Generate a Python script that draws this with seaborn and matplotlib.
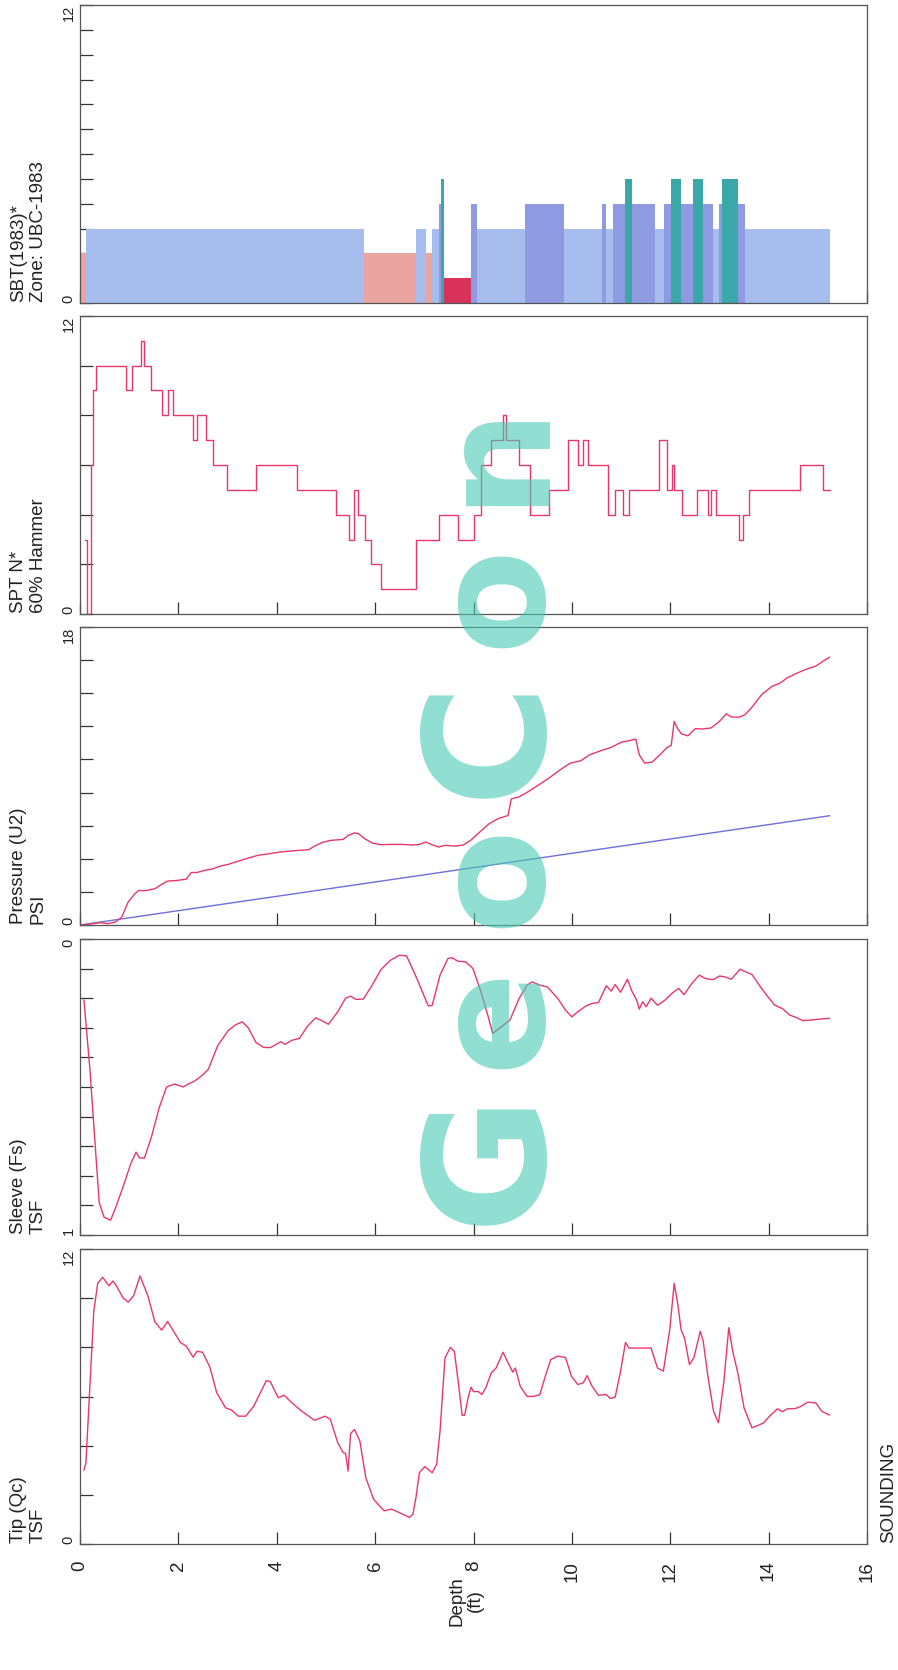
import numpy as np
import matplotlib
matplotlib.use("Agg")
import matplotlib.pyplot as plt
import seaborn as sns

# ---------------- data (depth in ft) ----------------
tip_depth = [0.08, 0.12, 0.28, 0.36, 0.46, 0.59, 0.67, 0.74, 0.88, 0.98, 1.09, 1.22, 1.38, 1.52,
             1.66, 1.78, 1.92, 2.04, 2.16, 2.30, 2.38, 2.49, 2.64, 2.78, 2.96, 3.08, 3.22, 3.37,
             3.53, 3.68, 3.79, 3.87, 4.03, 4.15, 4.31, 4.51, 4.77, 4.98, 5.09, 5.24, 5.35, 5.40,
             5.45, 5.50, 5.58, 5.69, 5.81, 5.97, 6.18, 6.33, 6.49, 6.70, 6.77, 6.83, 6.90, 7.01,
             7.16, 7.25, 7.32, 7.42, 7.53, 7.61, 7.68, 7.77, 7.82, 7.89, 7.95, 8.00, 8.10, 8.17,
             8.25, 8.36, 8.46, 8.60, 8.72, 8.80, 8.85, 8.95, 9.09, 9.24, 9.35, 9.45, 9.57, 9.71,
             9.87, 9.99, 10.12, 10.23, 10.31, 10.41, 10.54, 10.70, 10.78, 10.88, 10.99, 11.09,
             11.16, 11.61, 11.74, 11.86, 11.99, 12.08, 12.15, 12.22, 12.29, 12.39, 12.48, 12.61,
             12.67, 12.77, 12.88, 12.98, 13.09, 13.19, 13.27, 13.38, 13.50, 13.66, 13.76, 13.90,
             14.02, 14.18, 14.28, 14.38, 14.54, 14.64, 14.80, 14.96, 15.08, 15.24]
tip_qc = [3.0, 3.3, 9.46, 10.6, 10.85, 10.5, 10.7, 10.5, 10.0, 9.84, 10.1, 10.9, 10.1, 9.05,
          8.7, 9.05, 8.6, 8.2, 8.05, 7.6, 7.84, 7.8, 7.2, 6.15, 5.54, 5.45, 5.2, 5.2,
          5.6, 6.2, 6.65, 6.6, 5.95, 6.05, 5.74, 5.4, 5.03, 5.2, 5.07, 4.12, 3.72, 3.68,
          2.97, 4.49, 4.66, 4.19, 2.7, 1.82, 1.35, 1.42, 1.28, 1.08, 1.22, 1.89, 2.9, 3.15,
          2.9, 3.24, 4.6, 7.57, 8.0, 7.84, 6.76, 5.23, 5.24, 5.95, 6.38, 6.2, 6.2, 6.08,
          6.35, 6.96, 7.16, 7.8, 7.3, 6.99, 7.16, 6.42, 6.0, 6.01, 6.08, 6.76, 7.5, 7.64,
          7.59, 6.83, 6.49, 6.55, 6.85, 6.42, 6.05, 6.08, 5.92, 5.97, 7.03, 8.2,
          7.97, 7.97, 7.16, 7.03, 8.72, 10.6, 9.8, 8.72, 8.38, 7.3, 7.57, 8.65,
          8.25, 6.76, 5.4, 4.93, 6.62, 8.8, 7.84, 6.9, 5.54, 4.73, 4.8, 4.93,
          5.2, 5.5, 5.38, 5.5, 5.51, 5.58, 5.77, 5.74, 5.4, 5.24]

sleeve_depth = [0.08, 0.20, 0.39, 0.49, 0.62, 0.72, 0.88, 1.03, 1.14, 1.21, 1.31, 1.45, 1.61,
                1.76, 1.92, 2.10, 2.20, 2.33, 2.49, 2.61, 2.80, 3.01, 3.16, 3.30, 3.42, 3.58,
                3.73, 3.87, 3.99, 4.08, 4.17, 4.31, 4.46, 4.62, 4.79, 4.93, 5.05, 5.24, 5.40,
                5.50, 5.61, 5.76, 5.94, 6.12, 6.31, 6.49, 6.64, 6.85, 7.08, 7.16, 7.32, 7.48,
                7.56, 7.68, 7.84, 7.99, 8.15, 8.29, 8.39, 8.57, 8.74, 8.93, 9.09, 9.19, 9.35,
                9.50, 9.71, 9.87, 10.00, 10.12, 10.28, 10.40, 10.54, 10.70, 10.80, 10.88, 10.99,
                11.13, 11.21, 11.32, 11.37, 11.44, 11.51, 11.61, 11.74, 11.89, 12.03, 12.17,
                12.28, 12.44, 12.59, 12.72, 12.88, 13.00, 13.11, 13.24, 13.42, 13.52, 13.66,
                13.81, 13.97, 14.12, 14.28, 14.43, 14.56, 14.70, 14.85, 15.01, 15.24]
sleeve_fs = [0.206, 0.437, 0.89, 0.94, 0.95, 0.91, 0.835, 0.76, 0.72, 0.74, 0.74, 0.67, 0.57,
             0.50, 0.49, 0.50, 0.49, 0.48, 0.46, 0.44, 0.36, 0.31, 0.29, 0.28, 0.30, 0.35,
             0.366, 0.367, 0.356, 0.347, 0.356, 0.342, 0.336, 0.296, 0.266, 0.277, 0.288, 0.246, 0.20,
             0.193, 0.204, 0.203, 0.156, 0.103, 0.072, 0.055, 0.057, 0.134, 0.226, 0.224, 0.122, 0.066,
             0.063, 0.075, 0.077, 0.10, 0.178, 0.257, 0.319, 0.296, 0.274, 0.20, 0.156, 0.145, 0.156,
             0.162, 0.20, 0.24, 0.263, 0.246, 0.227, 0.218, 0.215, 0.158, 0.176, 0.154, 0.18,
             0.136, 0.173, 0.207, 0.237, 0.212, 0.229, 0.20, 0.224, 0.207, 0.184, 0.167,
             0.188, 0.15, 0.122, 0.134, 0.137, 0.125, 0.128, 0.136, 0.102, 0.11, 0.12,
             0.156, 0.192, 0.223, 0.235, 0.257, 0.265, 0.276, 0.274, 0.271, 0.268]

u2_depth = [0.05, 0.25, 0.41, 0.57, 0.72, 0.85, 0.98, 1.12, 1.19, 1.35, 1.53, 1.66, 1.78, 1.97,
            2.16, 2.26, 2.38, 2.54, 2.70, 2.85, 3.01, 3.22, 3.42, 3.63, 3.84, 4.05, 4.25, 4.46,
            4.65, 4.77, 4.93, 5.09, 5.35, 5.45, 5.58, 5.66, 5.79, 5.94, 6.12, 6.33, 6.54, 6.75,
            6.90, 7.03, 7.14, 7.29, 7.42, 7.63, 7.79, 7.94, 8.10, 8.31, 8.51, 8.70, 8.77, 8.93,
            9.14, 9.35, 9.55, 9.76, 9.97, 10.18, 10.36, 10.59, 10.80, 11.01, 11.16, 11.30, 11.37,
            11.48, 11.63, 11.79, 11.94, 12.02, 12.08, 12.15, 12.23, 12.36, 12.51, 12.65, 12.83,
            13.00, 13.14, 13.24, 13.40, 13.52, 13.66, 13.86, 14.07, 14.23, 14.38, 14.59, 14.80,
            14.96, 15.11, 15.24]
u2_psi = [0.0, 0.08, 0.14, 0.08, 0.18, 0.48, 1.39, 1.90, 2.08, 2.08, 2.2, 2.46, 2.65, 2.69,
          2.77, 3.17, 3.17, 3.31, 3.39, 3.56, 3.66, 3.86, 4.04, 4.22, 4.30, 4.40, 4.46, 4.51,
          4.55, 4.77, 4.99, 5.11, 5.17, 5.41, 5.56, 5.52, 5.21, 4.95, 4.85, 4.87, 4.87, 4.83,
          4.87, 5.01, 4.87, 4.71, 4.81, 4.77, 4.83, 5.11, 5.54, 6.10, 6.44, 6.61, 7.62, 7.74,
          8.10, 8.51, 8.91, 9.37, 9.78, 9.92, 10.28, 10.53, 10.73, 11.05, 11.13, 11.23, 10.28,
          9.78, 9.84, 10.28, 10.73, 10.85, 12.30, 11.86, 11.54, 11.43, 11.86, 11.84, 11.90,
          12.30, 12.75, 12.57, 12.55, 12.71, 13.15, 13.92, 14.42, 14.61, 14.93, 15.23, 15.49,
          15.64, 15.94, 16.18]

hydro_depth = [0.0, 15.24]
hydro_psi = [0.0, 6.6]

spt_depth = [0.10, 0.15, 0.22, 0.27, 0.33, 0.93, 1.05, 1.24, 1.31, 1.45, 1.66, 1.78, 1.90,
             2.30, 2.38, 2.57, 2.70, 2.98, 3.58, 4.41, 5.21, 5.47, 5.58, 5.66, 5.79, 5.92,
             6.12, 6.83, 7.29, 7.68, 8.02, 8.15, 8.36, 8.60, 8.67, 8.93, 9.14, 9.53, 9.92,
             10.12, 10.23, 10.33, 10.73, 10.88, 11.03, 11.16, 11.77, 11.94, 12.03, 12.07,
             12.23, 12.55, 12.77, 12.83, 12.93, 13.40, 13.47, 13.61, 14.64, 15.11, 15.24]
spt_n = [3, 0, 6, 9, 10, 9, 10, 11, 10, 9, 8, 9, 8,
         7, 8, 7, 6, 5, 6, 5, 4, 3, 5, 4, 3, 2,
         1, 3, 4, 3, 4, 6, 7, 8, 7, 6, 4, 5, 7,
         6, 7, 6, 4, 5, 4, 5, 7, 5, 6, 5,
         4, 5, 4, 5, 4, 3, 4, 5, 6, 5, 5]

sbt_top = [0.00, 0.12, 5.78, 6.83, 7.04, 7.16, 7.29, 7.34, 7.41, 7.94, 8.08, 9.05, 9.83,
           10.62, 10.70, 10.83, 11.08, 11.22, 11.68, 11.87, 12.02, 12.21, 12.46, 12.67,
           12.86, 13.00, 13.06, 13.38, 13.52]
sbt_bottom = [0.12, 5.78, 6.83, 7.04, 7.16, 7.29, 7.34, 7.41, 7.94, 8.08, 9.05, 9.83, 10.62,
              10.70, 10.83, 11.08, 11.22, 11.68, 11.87, 12.02, 12.21, 12.46, 12.67, 12.86,
              13.00, 13.06, 13.38, 13.52, 15.24]
sbt_zone = [2, 3, 2, 3, 2, 3, 4, 5, 1, 4, 3, 4, 3,
            4, 3, 4, 5, 4, 3, 4, 5, 4, 5, 4,
            3, 4, 5, 4, 3]
zone_colors = {1: "#d8325c", 2: "#eca4a2", 3: "#a6bdee", 4: "#8e9be2", 5: "#3aa8a8"}

# ---------------- figure ----------------
sns.set_style("white")
plt.rcParams["font.family"] = ["Liberation Sans", "DejaVu Sans"]

W, H = 898, 1670
fig = plt.figure(figsize=(W / 100, H / 100), dpi=100)
LINE = "#e8376b"


def make_ax(top, bottom):
    return fig.add_axes([80 / W, 1 - bottom / H, (867 - 80) / W, (bottom - top) / H])


def style(ax, vmax, step, lbl_max, invert=False, last=False):
    ax.set_xlim(0, 16)
    ax.set_ylim((vmax, 0) if invert else (0, vmax))
    ticks = np.arange(0, vmax + step / 2, step)
    ax.set_yticks(ticks)
    labels = [""] * len(ticks)
    labels[0], labels[-1] = "0", lbl_max
    tl = ax.set_yticklabels(labels, rotation=90, fontsize=10.5, color="#222222")
    tl[0].set_va("top" if invert else "bottom")
    tl[-1].set_va("bottom" if invert else "top")
    ax.set_xticks(range(0, 17, 2))
    ax.tick_params(axis="both", direction="in", length=9, width=0.9, color="#333333",
                   left=True, bottom=True)
    ax.tick_params(axis="y", pad=3)
    if last:
        ax.set_xticklabels([str(v) for v in range(0, 17, 2)], rotation=90, fontsize=13.5,
                           color="#222222")
        ax.tick_params(axis="x", pad=12)
    else:
        ax.set_xticklabels([])
    for s in ax.spines.values():
        s.set_color("#555555")
        s.set_linewidth(0.9)
    ax.set_xlabel("")
    ax.set_ylabel("")


# SBT
ax_sbt = make_ax(5, 303)
for t, b, z in zip(sbt_top, sbt_bottom, sbt_zone):
    ax_sbt.bar(t, z, width=b - t, align="edge", color=zone_colors[z], linewidth=0)
style(ax_sbt, 12, 1, "12")

# SPT
ax_spt = make_ax(316, 614)
sns.lineplot(x=spt_depth, y=spt_n, ax=ax_spt, color=LINE, linewidth=1.0,
             drawstyle="steps-post", estimator=None, sort=False)
style(ax_spt, 12, 2, "12")

# Pressure
ax_u2 = make_ax(627, 925)
sns.lineplot(x=hydro_depth, y=hydro_psi, ax=ax_u2, color="#6f6fdc", linewidth=1.0,
             estimator=None, sort=False)
sns.lineplot(x=u2_depth, y=u2_psi, ax=ax_u2, color=LINE, linewidth=1.0,
             estimator=None, sort=False)
style(ax_u2, 18, 2, "18")

# Sleeve
ax_fs = make_ax(939, 1235)
sns.lineplot(x=sleeve_depth, y=sleeve_fs, ax=ax_fs, color=LINE, linewidth=1.0,
             estimator=None, sort=False)
style(ax_fs, 1, 0.1, "1", invert=True)

# Tip
ax_qc = make_ax(1249, 1544)
sns.lineplot(x=tip_depth, y=tip_qc, ax=ax_qc, color=LINE, linewidth=1.0,
             estimator=None, sort=False)
style(ax_qc, 12, 2, "12", last=True)

# panel titles (rotated, on the left)
titles = [("SBT(1983)*\nZone: UBC-1983", 303), ("SPT N*\n60% Hammer", 614),
          ("Pressure (U2)\nPSI", 925), ("Sleeve (Fs)\nTSF", 1235), ("Tip (Qc)\nTSF", 1544)]
for txt, bottom in titles:
    fig.text(10 / W, 1 - (bottom - 1) / H, txt, rotation=90, ha="left", va="bottom",
             fontsize=13.5, color="#222222", linespacing=1.2, multialignment="left")

fig.text(880 / W, 1 - 1543 / H, "SOUNDING", rotation=90, ha="left", va="bottom",
         fontsize=13.5, color="#222222")
fig.text(466 / W, 1 - 1576 / H, "Depth\n(ft)", rotation=90, ha="center", va="top",
         fontsize=13.5, color="#222222", linespacing=1.1, multialignment="center")

# watermark, letter by letter (baseline on the right, reading upward)
wm_letters = ["G", "e", "o", "C", "o", "n"]
wm_centers = [1157, 1017, 875, 737, 595, 452]
for ch, yc in zip(wm_letters, wm_centers):
    fs = 120 if ch.isupper() else 110
    fig.text(538 / W, 1 - yc / H, ch, rotation=90, rotation_mode="anchor",
             ha="center", va="baseline", fontsize=fs, fontweight="bold",
             family="DejaVu Sans", color="#45cab4", alpha=0.6, zorder=10)

fig.savefig("out.png", dpi=100)
